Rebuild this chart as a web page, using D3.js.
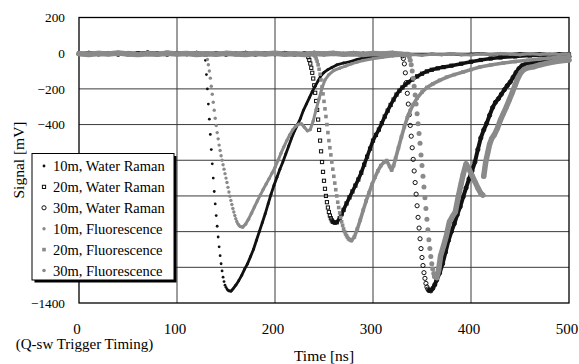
<!DOCTYPE html>
<html>
<head>
<meta charset="utf-8">
<script src="https://d3js.org/d3.v7.min.js"></script>
<style>
  body { margin: 0; background: #fff; }
  text { font-family: "Liberation Serif", "Times New Roman", Times, serif; }
  .grid-line { stroke: #3a3a3a; stroke-width: 1; }
  .frame { fill: none; stroke: #000; stroke-width: 1.3; }
  .y-axis text { font-size: 13.3px; fill: #000; }
  .x-axis text { font-size: 15px; fill: #000; }
  .axis-title { font-size: 15.5px; fill: #000; }
  .legend text { font-size: 14.5px; fill: #000; }
</style>
</head>
<body>
<script>
var xTicks = [0, 100, 200, 300, 400, 500];
var yTicks = [200, 0, -200, -400, -600, -800, -1000, -1200, -1400];
// labels the legend box does not hide
var yLabels = [200, 0, -200, -400, -1400];
var seriesNames = ["10m, Water Raman", "20m, Water Raman", "30m, Water Raman",
                   "10m, Fluorescence", "20m, Fluorescence", "30m, Fluorescence"];

// [time ns, signal mV]
var r10 = [[0,-3],[10,-6],[20,-1],[30,-5],[40,0],[50,-7],[60,-2],[70,-4],[80,1],[90,-6],[100,-2],[110,-5],[120,-1],[127,-4],
  [128,-12],[129,-40],[130,-120],[131,-200],[132,-285],[133,-370],[134,-455],[135,-540],[136,-620],[137,-700],[138,-775],[139,-845],[140,-910],[141,-970],[142,-1030],[143,-1085],[144,-1135],[145,-1180],[146,-1220],[147,-1255],[148,-1280],[149,-1300],[150,-1312],[151,-1322],[152,-1328],[153,-1332],
  [155,-1334],[157,-1322],[160,-1300],[163,-1275],[166,-1245],[169,-1210],[172,-1180],[175,-1140],[178,-1100],[181,-1050],[184,-1000],[187,-950],[190,-900],[193,-845],[196,-790],[199,-740],[202,-695],[205,-650],[208,-610],[211,-565],[214,-520],[217,-475],[220,-435],[223,-400],[226,-365],[229,-320],[232,-285],[235,-250],[238,-215],[241,-185],[244,-155],[247,-125],[250,-108],[254,-92],[258,-80],[263,-66],[270,-55],[277,-47],[284,-35],[290,-27],[300,-20],[310,-14],[320,-10],[330,-12],[340,-7],[350,-10],[360,-5],[370,-8],[380,-4],[390,-9],[400,-6],[410,-3],[420,-8],[430,-4],[440,-7],[450,-2],[460,-6],[470,-3],[480,-8],[490,-4],[500,-6]];

var r20 = [[0,-2],[10,-5],[20,1],[30,-4],[40,-1],[50,-6],[60,0],[70,-3],[80,-5],[90,2],[100,-4],[110,-1],[120,-6],[130,-2],[140,-4],[150,0],[160,-5],[170,-2],[180,-6],[190,-1],[200,-4],[210,0],[220,-5],[230,-3],
  [233,-10],[234,-22],[235,-38],[236,-58],[237,-82],[238,-110],[239,-142],[240,-180],[241,-222],[242,-268],[243,-318],[244,-372],[245,-430],[246,-490],[247,-550],[248,-610],[249,-665],[250,-715],[251,-760],[252,-800],[253,-835],[254,-865],[255,-890],[256,-910],[257,-925],[258,-937],[259,-945],
  [261,-950],[263,-948],[266,-925],[268,-902],[270,-878],[273,-842],[276,-808],[279,-775],[282,-742],[285,-708],[288,-670],[291,-625],[294,-580],[297,-535],[300,-490],[303,-458],[306,-428],[309,-392],[312,-355],[315,-322],[318,-290],[321,-260],[324,-232],[327,-210],[330,-192],[333,-176],[336,-163],[340,-148],[345,-130],[350,-115],[355,-102],[360,-93],[366,-85],[372,-78],[380,-70],[390,-59],[400,-48],[410,-38],[420,-30],[430,-24],[445,-18],[460,-13],[475,-10],[490,-8],[500,-7]];

var r30 = [[0,-4],[10,0],[20,-5],[30,-2],[40,-6],[50,-1],[60,-4],[70,2],[80,-3],[90,-6],[100,-1],[110,-4],[120,0],[130,-5],[140,-2],[150,-6],[160,-3],[170,0],[180,-5],[190,-2],[200,-4],[210,-1],[220,-6],[230,-3],[240,0],[250,-4],[260,-2],[270,-6],[280,-1],[290,-4],[300,-2],[310,-5],[320,-1],[329,-8],
  [330,-15],[331,-30],[332,-60],[333,-110],[334,-165],[335,-225],[336,-285],[337,-345],[338,-405],[339,-465],[340,-530],[341,-595],[342,-660],[343,-725],[344,-790],[345,-855],[346,-920],[347,-980],[348,-1040],[349,-1095],[350,-1145],[351,-1190],[352,-1230],[353,-1262],[354,-1290],[355,-1310],[356,-1322],[357,-1330],
  [359,-1332],[361,-1318],[363,-1298],[365,-1271],[368,-1232],[371,-1180],[374,-1115],[377,-1050],[380,-1000],[383,-955],[386,-905],[389,-860],[392,-805],[395,-755],[398,-705],[401,-660],[404,-610],[407,-540],[410,-475],[413,-430],[416,-393],[419,-348],[422,-305],[425,-275],[428,-255],[431,-230],[434,-205],[437,-182],[440,-162],[443,-135],[446,-108],[449,-86],[452,-70],[456,-60],[461,-54],[467,-48],[474,-40],[481,-32],[488,-26],[494,-22],[500,-20]];

var f10 = [[0,-1],[10,-5],[20,2],[30,-3],[40,-7],[50,1],[60,-4],[70,-1],[80,-6],[90,0],[100,-3],[110,-6],[120,-2],[129,-5],
  [130,-12],[131,-35],[132,-65],[133,-100],[134,-140],[135,-185],[136,-230],[137,-275],[138,-320],[139,-365],[140,-405],[141,-445],[142,-480],[143,-515],[144,-545],[145,-575],[146,-600],[147,-625],[148,-650],[149,-675],[150,-700],[151,-725],[152,-752],[153,-778],[154,-802],[155,-825],[156,-848],[157,-870],[158,-890],[159,-910],[160,-928],[161,-943],[162,-955],[163,-963],[164,-969],[165,-972],
  [167,-975],[170,-958],[173,-930],[176,-897],[179,-862],[182,-828],[185,-795],[188,-763],[191,-733],[194,-703],[197,-672],[200,-640],[203,-602],[206,-562],[209,-525],[212,-490],[215,-458],[218,-430],[221,-410],[224,-398],[227,-396],[230,-415],[233,-435],[236,-428],[239,-380],[242,-315],[245,-255],[248,-195],[251,-150],[255,-120],[260,-97],[266,-84],[272,-72],[278,-60],[284,-50],[290,-41],[300,-31],[310,-23],[320,-16],[330,-11],[340,-8],[350,-12],[360,-6],[370,-9],[380,-3],[390,-7],[400,-10],[410,-4],[420,-8],[430,-2],[440,-6],[450,-9],[460,-3],[470,-7],[480,-4],[490,-8],[500,-5]];

var f20 = [[0,-5],[10,-1],[20,-6],[30,-2],[40,2],[50,-4],[60,-7],[70,-2],[80,-5],[90,-1],[100,-6],[110,-3],[120,1],[130,-4],[140,-7],[150,-2],[160,-5],[170,-1],[180,-4],[190,-7],[200,-2],[210,-5],[220,0],[230,-4],[238,-6],
  [240,-10],[241,-18],[242,-30],[243,-45],[244,-65],[245,-90],[246,-118],[247,-150],[248,-188],[249,-228],[250,-270],[251,-312],[252,-355],[253,-400],[254,-445],[255,-490],[256,-530],[257,-570],[258,-610],[259,-650],[260,-690],[261,-728],[262,-765],[263,-800],[264,-835],[265,-865],[266,-895],[267,-920],[268,-945],[269,-965],[270,-985],[271,-1000],[272,-1013],[273,-1023],[274,-1032],[275,-1040],[276,-1045],
  [278,-1050],[281,-1030],[284,-985],[287,-935],[290,-880],[293,-828],[296,-782],[299,-735],[302,-695],[305,-660],[308,-630],[311,-612],[314,-602],[317,-635],[319,-655],[321,-630],[323,-590],[326,-530],[329,-470],[332,-412],[335,-362],[338,-322],[341,-288],[345,-252],[350,-218],[355,-192],[361,-172],[368,-152],[375,-135],[383,-120],[392,-105],[400,-92],[409,-78],[420,-66],[433,-55],[445,-47],[458,-40],[470,-33],[485,-26],[500,-20]];

var f30 = [[0,-3],[10,-7],[20,-2],[30,-5],[40,1],[50,-4],[60,-8],[70,-3],[80,-6],[90,0],[100,-5],[110,-2],[120,-7],[130,-3],[140,-6],[150,-1],[160,-4],[170,-7],[180,-2],[190,-5],[200,0],[210,-6],[220,-3],[230,-7],[240,-2],[250,-5],[260,-1],[270,-6],[280,-3],[290,-7],[300,-2],[310,-5],[320,-1],[330,-6],[336,-8],
  [337,-20],[338,-40],[339,-65],[340,-100],[341,-140],[342,-185],[343,-235],[344,-285],[345,-340],[346,-395],[347,-450],[348,-505],[349,-570],[350,-630],[351,-690],[352,-750],[353,-810],[354,-870],[355,-930],[356,-990],[357,-1045],[358,-1095],[359,-1140],[360,-1180],[361,-1210],[362,-1235],[363,-1252],
  [365,-1258],[367,-1215],[369,-1135],[372,-1080],[375,-1020],[378,-945],[381,-915],[384,-890],[387,-805],[390,-730],[392,-680],[395,-620],[398,-650],[401,-685],[404,-720],[407,-755],[410,-785],[412,-795],
  [413,-690],[415,-610],[417,-560],[419,-510],[421,-480],[424,-455],[427,-420],[430,-375],[433,-338],[436,-302],[439,-262],[442,-222],[445,-180],[448,-138],[451,-108],[454,-92],[458,-82],[464,-76],[470,-66],[477,-57],[485,-48],[492,-42],[500,-38]];

var allSeries = [r10, r20, r30, f10, f20, f30];

var black = "#111", gray = "#8a8a8a";
var styles = [
  {color: black, shape: "dot", r: 1.4, lw: 2.8},
  {color: black, shape: "box", r: 1.6, lw: 3.6},
  {color: black, shape: "ring", r: 2.1, lw: 4},
  {color: gray, shape: "dot", r: 1.7, lw: 3},
  {color: gray, shape: "sq", r: 1.8, lw: 3.6},
  {color: gray, shape: "dot", r: 2.5, lw: 5.5}
];

var W = 579, H = 364;
var plot = {left: 79, right: 569, top: 17.5, bottom: 303};
var serif = "'Liberation Serif', 'Times New Roman', serif";

var svg = d3.select("body").append("svg")
    .attr("width", W)
    .attr("height", H)
    .attr("font-family", serif);

var x = d3.scaleLinear().domain([0, 500]).range([plot.left, plot.right]);
var y = d3.scaleLinear().domain([-1400, 200]).range([plot.bottom, plot.top]);

// grid
svg.append("g").selectAll("line")
  .data(xTicks.slice(1, -1))
  .enter().append("line")
    .attr("class", "grid-line")
    .attr("x1", function(d) { return x(d); }).attr("x2", function(d) { return x(d); })
    .attr("y1", plot.top).attr("y2", plot.bottom);

svg.append("g").selectAll("line")
  .data(yTicks.slice(1, -1))
  .enter().append("line")
    .attr("class", "grid-line")
    .attr("x1", plot.left).attr("x2", plot.right)
    .attr("y1", function(d) { return y(d); }).attr("y2", function(d) { return y(d); });

svg.append("rect")
  .attr("class", "frame")
  .attr("x", plot.left).attr("y", plot.top)
  .attr("width", plot.right - plot.left).attr("height", plot.bottom - plot.top);

// axes (labels only)
var yAxis = svg.append("g")
  .attr("class", "y-axis")
  .attr("transform", "translate(" + plot.left + ",0)")
  .call(d3.axisLeft(y).tickValues(yLabels).tickFormat(d3.format("d")).tickSize(0).tickPadding(14));
yAxis.attr("font-family", serif).attr("font-size", null);
yAxis.select(".domain").remove();

var xAxis = svg.append("g")
  .attr("class", "x-axis")
  .attr("transform", "translate(0," + plot.bottom + ")")
  .call(d3.axisBottom(x).tickValues(xTicks).tickFormat(d3.format("d")).tickSize(0).tickPadding(20));
xAxis.attr("font-family", serif).attr("font-size", null);
xAxis.select(".domain").remove();
xAxis.selectAll("text").attr("dx", -2.5);

// series: points sampled 1 ns apart stay separate dots,
// coarser stretches are where the markers merge into a band
function runs(pts) {
  var out = [], cur = [pts[0]];
  for (var i = 1; i < pts.length; i++) {
    if (pts[i][0] - pts[i - 1][0] > 1.2) {
      cur.push(pts[i]);
    } else {
      if (cur.length > 1) out.push(cur);
      cur = [pts[i]];
    }
  }
  if (cur.length > 1) out.push(cur);
  return out;
}

var line = d3.line()
  .x(function(d) { return x(d[0]); })
  .y(function(d) { return y(d[1]); });

function drawMarker(g, st, cx, cy) {
  if (st.shape === "dot") {
    g.append("circle").attr("cx", cx).attr("cy", cy).attr("r", st.r).attr("fill", st.color);
  } else if (st.shape === "ring") {
    g.append("circle").attr("cx", cx).attr("cy", cy).attr("r", st.r)
      .attr("fill", "none").attr("stroke", st.color).attr("stroke-width", 1);
  } else if (st.shape === "box") {
    g.append("rect").attr("x", cx - st.r).attr("y", cy - st.r)
      .attr("width", st.r * 2).attr("height", st.r * 2)
      .attr("fill", "none").attr("stroke", st.color).attr("stroke-width", 1);
  } else {
    g.append("rect").attr("x", cx - st.r).attr("y", cy - st.r)
      .attr("width", st.r * 2).attr("height", st.r * 2)
      .attr("fill", st.color);
  }
}

allSeries.forEach(function(pts, i) {
  var st = styles[i];
  var g = svg.append("g").attr("class", "series s" + i);
  g.selectAll("path")
    .data(runs(pts))
    .enter().append("path")
      .attr("d", line)
      .attr("fill", "none")
      .attr("stroke", st.color)
      .attr("stroke-width", st.lw)
      .attr("stroke-linejoin", "round")
      .attr("stroke-linecap", "round");
  pts.forEach(function(d) { drawMarker(g, st, x(d[0]), y(d[1])); });
});

// titles
svg.append("text")
  .attr("class", "axis-title")
  .attr("transform", "translate(24,160) rotate(-90)")
  .attr("text-anchor", "middle")
  .text("Signal [mV]");

svg.append("text")
  .attr("class", "axis-title")
  .attr("x", (plot.left + plot.right) / 2)
  .attr("y", 361)
  .attr("text-anchor", "middle")
  .text("Time [ns]");

svg.append("text")
  .attr("class", "axis-title")
  .style("font-size", "15px")
  .attr("x", 84.5)
  .attr("y", 349)
  .attr("text-anchor", "middle")
  .text("(Q-sw Trigger Timing)");

// legend
var legend = svg.append("g").attr("class", "legend");
var lg = {x: 32, y: 153.5, w: 142, h: 126.5};
legend.append("rect")
  .attr("x", lg.x + 2.5).attr("y", lg.y + 2.5)
  .attr("width", lg.w).attr("height", lg.h)
  .attr("fill", "#000");
legend.append("rect")
  .attr("x", lg.x).attr("y", lg.y)
  .attr("width", lg.w).attr("height", lg.h)
  .attr("fill", "#fff").attr("stroke", "#000").attr("stroke-width", 1);

seriesNames.forEach(function(name, i) {
  var cy = lg.y + 12.5 + i * 20.9;
  var st = styles[i];
  var mst = {color: st.color, shape: st.shape, r: st.shape === "dot" ? Math.min(st.r, 1.8) : st.r};
  drawMarker(legend, mst, lg.x + 12, cy);
  legend.append("text")
    .attr("x", lg.x + 21)
    .attr("y", cy)
    .attr("dy", "0.35em")
    .text(name);
});
</script>
</body>
</html>
